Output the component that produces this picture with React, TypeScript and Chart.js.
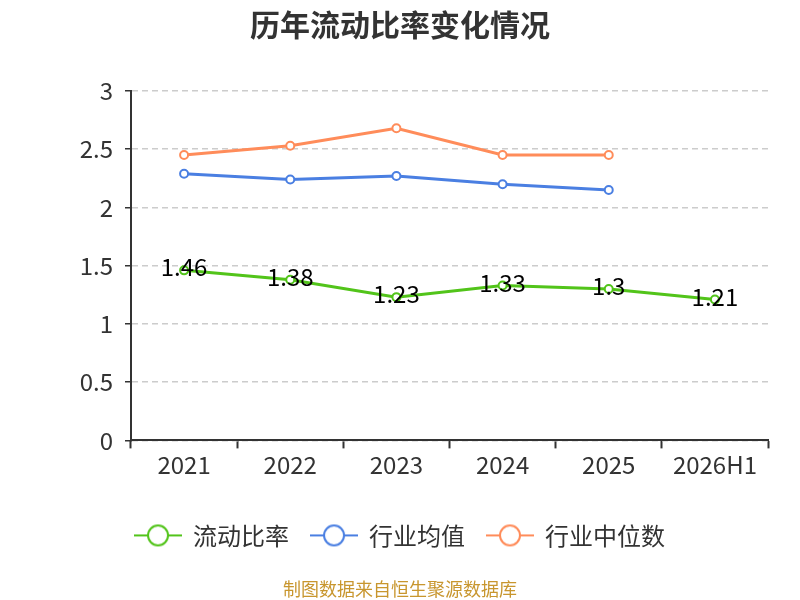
import { useEffect, useRef } from "react"
import { Chart, registerables } from "chart.js"
import type { Plugin } from "chart.js"

Chart.register(...registerables)

const years = ["2021", "2022", "2023", "2024", "2025", "2026H1"]
const currentRatio = [1.46, 1.38, 1.23, 1.33, 1.3, 1.21]
const industryAvg = [2.29, 2.24, 2.27, 2.2, 2.15, null]
const industryMedian = [2.45, 2.53, 2.68, 2.45, 2.45, null]

const GREEN = "#52c41a"
const BLUE = "#4a7fe2"
const ORANGE = "#ff8c5a"
const FONT = '"Noto Sans CJK SC", "Noto Sans", sans-serif'

// legend marker: short line with hollow circle
function legendMarker(color: string) {
  const c = document.createElement("canvas")
  c.width = 48
  c.height = 24
  const ctx = c.getContext("2d")!
  ctx.strokeStyle = color
  ctx.lineWidth = 2
  ctx.beginPath()
  ctx.moveTo(0, 12)
  ctx.lineTo(48, 12)
  ctx.stroke()
  ctx.beginPath()
  ctx.arc(24, 12, 10, 0, Math.PI * 2)
  ctx.fillStyle = "#fff"
  ctx.fill()
  ctx.stroke()
  return c
}

const valueLabels: Plugin<"line"> = {
  id: "valueLabels",
  afterDatasetsDraw(chart) {
    const ctx = chart.ctx
    const meta = chart.getDatasetMeta(0)
    ctx.save()
    ctx.font = `24px ${FONT}`
    ctx.fillStyle = "#000"
    ctx.textAlign = "center"
    ctx.textBaseline = "middle"
    meta.data.forEach((pt, i) => {
      ctx.fillText(String(currentRatio[i]), pt.x, pt.y - 3)
    })
    ctx.restore()
  },
}

export default function App() {
  const canvasRef = useRef<HTMLCanvasElement>(null)

  useEffect(() => {
    document.body.style.margin = "0"
    if (!canvasRef.current) return

    const colors = [GREEN, BLUE, ORANGE]
    const markers = colors.map(legendMarker)

    const chart = new Chart(canvasRef.current, {
      type: "line",
      data: {
        labels: years,
        datasets: [
          { label: "流动比率", data: currentRatio, borderColor: GREEN },
          { label: "行业均值", data: industryAvg, borderColor: BLUE },
          { label: "行业中位数", data: industryMedian, borderColor: ORANGE },
        ].map((d) => ({
          ...d,
          backgroundColor: "#fff",
          pointBackgroundColor: "#fff",
          pointBorderColor: d.borderColor,
          borderWidth: 3,
          pointRadius: 4,
          pointBorderWidth: 2,
          tension: 0,
          spanGaps: false,
        })),
      },
      options: {
        responsive: true,
        maintainAspectRatio: false,
        animation: false,
        layout: { padding: { left: 32, right: 32, top: 0, bottom: 0 } },
        scales: {
          x: {
            offset: true,
            afterFit: (scale) => {
              scale.height = 61
            },
            grid: {
              offset: true,
              drawOnChartArea: false,
              drawTicks: true,
              tickLength: 8,
              tickColor: "#333",
              tickWidth: 2,
            },
            border: { color: "#333", width: 2 },
            ticks: { color: "#333", font: { size: 24, family: FONT }, padding: 2 },
          },
          y: {
            min: 0,
            max: 3,
            afterFit: (scale) => {
              scale.width = 99
            },
            ticks: {
              stepSize: 0.5,
              color: "#333",
              font: { size: 24, family: FONT },
              padding: 12,
              callback: (v) => String(Number(v)),
            },
            grid: {
              color: "#ccc",
              lineWidth: 1.5,
              tickLength: 6,
              tickColor: "#333",
              tickWidth: 1.5,
              tickBorderDash: [],
            },
            border: { color: "#333", width: 2, dash: [6, 4] },
          },
        },
        plugins: {
          title: {
            display: true,
            text: "历年流动比率变化情况",
            color: "#333",
            font: { size: 30, weight: "bold", family: FONT },
            padding: { top: 7, bottom: 48 },
          },
          subtitle: {
            display: true,
            position: "bottom",
            text: "制图数据来自恒生聚源数据库",
            color: "#c8962e",
            font: { size: 18, family: FONT },
            padding: { top: 21, bottom: 0 },
          },
          legend: {
            position: "bottom",
            labels: {
              color: "#333",
              font: { size: 24, family: FONT },
              usePointStyle: true,
              pointStyleWidth: 46,
              padding: 22,
              generateLabels: (c) =>
                c.data.datasets.map((ds, i) => ({
                  text: ds.label as string,
                  fillStyle: "#fff",
                  strokeStyle: colors[i],
                  fontColor: "#333",
                  pointStyle: markers[i],
                  hidden: false,
                  datasetIndex: i,
                  lineWidth: 0,
                })),
            },
          },
          tooltip: { enabled: false },
        },
      },
      plugins: [valueLabels],
    })

    return () => {
      chart.destroy()
    }
  }, [])

  return (
    <div style={{ position: "relative", width: 800, height: 600 }}>
      <canvas ref={canvasRef} />
    </div>
  )
}
